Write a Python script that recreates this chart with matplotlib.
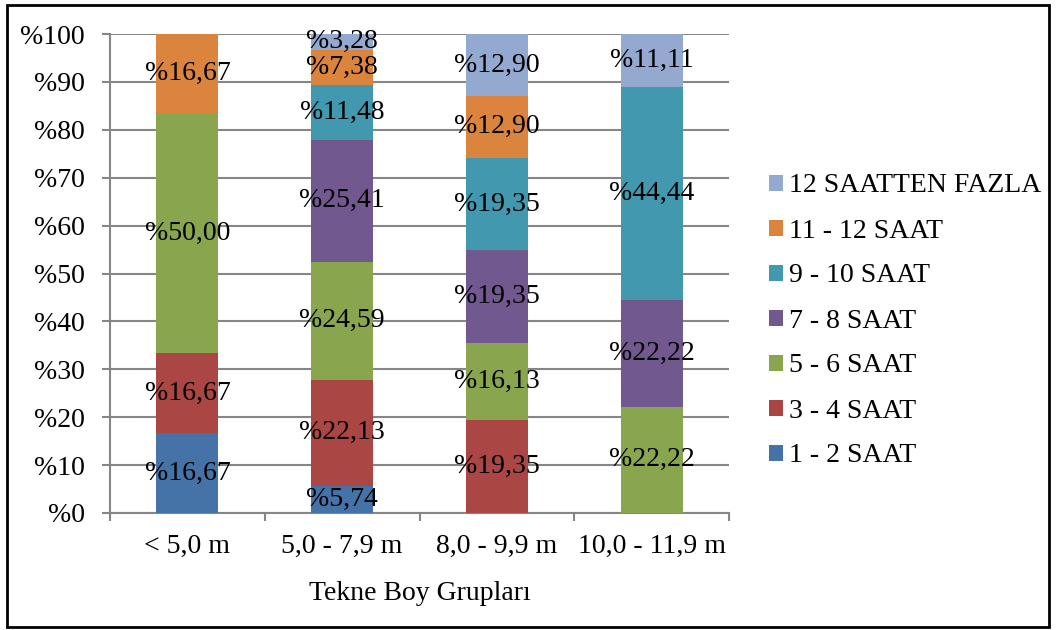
# Tekne boy gruplarına göre çalışma süresi (100% yığılmış sütun)

import numpy as np
import matplotlib.pyplot as plt
from matplotlib.patches import Rectangle
from matplotlib.ticker import FixedLocator

plt.rcParams['font.family'] = ['Liberation Serif', 'DejaVu Serif']

categories = ["< 5,0 m", "5,0 - 7,9 m", "8,0 - 9,9 m", "10,0 - 11,9 m"]
series_names = ["1 - 2 SAAT", "3 - 4 SAAT", "5 - 6 SAAT", "7 - 8 SAAT",
                "9 - 10 SAAT", "11 - 12 SAAT", "12 SAATTEN FAZLA"]
saat_1_2 = [16.67, 5.74, 0, 0]
saat_3_4 = [16.67, 22.13, 19.35, 0]
saat_5_6 = [50.00, 24.59, 16.13, 22.22]
saat_7_8 = [0, 25.41, 19.35, 22.22]
saat_9_10 = [0, 11.48, 19.35, 44.44]
saat_11_12 = [16.67, 7.38, 12.90, 0]
saat_12_plus = [0, 3.28, 12.90, 11.11]
colors = ["#4572A7", "#AA4643", "#89A54E", "#71588F",
          "#4198AF", "#DB843D", "#93A9CF"]

FS = 20

def plot_chart():
    values = [saat_1_2, saat_3_4, saat_5_6, saat_7_8,
              saat_9_10, saat_11_12, saat_12_plus]
    fig = plt.figure(figsize=(10.56, 6.3), dpi=100)
    ax = fig.add_axes([110/1056, 1-513/630, (729-110)/1056, (513-34)/630])

    x = np.arange(len(categories))
    bottom = np.zeros(len(categories))
    handles = []
    for name, vals, c in zip(series_names, values, colors):
        vals = np.array(vals, dtype=float)
        bars = ax.bar(x, vals, 0.4, bottom=bottom, color=c, label=name, zorder=3)
        handles.append(bars)
        for xi, v, b in zip(x, vals, bottom):
            if v > 0:
                ax.text(xi, b + v/2, "%" + f"{v:.2f}".replace(".", ","),
                        ha="center", va="center", fontsize=FS, zorder=4)
        bottom += vals

    ax.set_xlim(-0.5, 3.5)
    ax.set_ylim(0, 100)
    ax.set_yticks(range(0, 101, 10))
    ax.set_yticklabels(["%" + str(v) for v in range(0, 101, 10)])
    ax.set_xticks(x)
    ax.set_xticklabels(categories)
    ax.xaxis.set_minor_locator(FixedLocator([-0.5, 0.5, 1.5, 2.5, 3.5]))
    ax.tick_params(axis="x", which="major", length=0, pad=15, labelsize=FS)
    ax.tick_params(axis="x", which="minor", length=6, width=1.5, color="#868686")
    ax.tick_params(axis="y", length=6, width=1.5, color="#868686", pad=12, labelsize=FS)
    ax.grid(axis="y", color="#868686", linewidth=1.5, zorder=0)
    for s in ["top", "right"]:
        ax.spines[s].set_visible(False)
    for s in ["left", "bottom"]:
        ax.spines[s].set_color("#868686")
        ax.spines[s].set_linewidth(1.5)
    ax.set_xlabel("Tekne Boy Grupları", fontsize=FS, labelpad=16)

    ax.legend(handles[::-1], series_names[::-1], loc="center left",
              bbox_to_anchor=(758/1056, 1-321/630), bbox_transform=fig.transFigure,
              frameon=False, fontsize=FS, handlelength=0.5, handleheight=0.5,
              handletextpad=0.2, labelspacing=0.72, borderaxespad=0)

    fig.patches.append(Rectangle((7/1056, 3/630), 1042/1056, 622/630,
                                 transform=fig.transFigure, fill=False,
                                 edgecolor="black", linewidth=2))
    fig.savefig("out.png", dpi=100)

def main():
    plot_chart()

if __name__ == "__main__":
    main()
